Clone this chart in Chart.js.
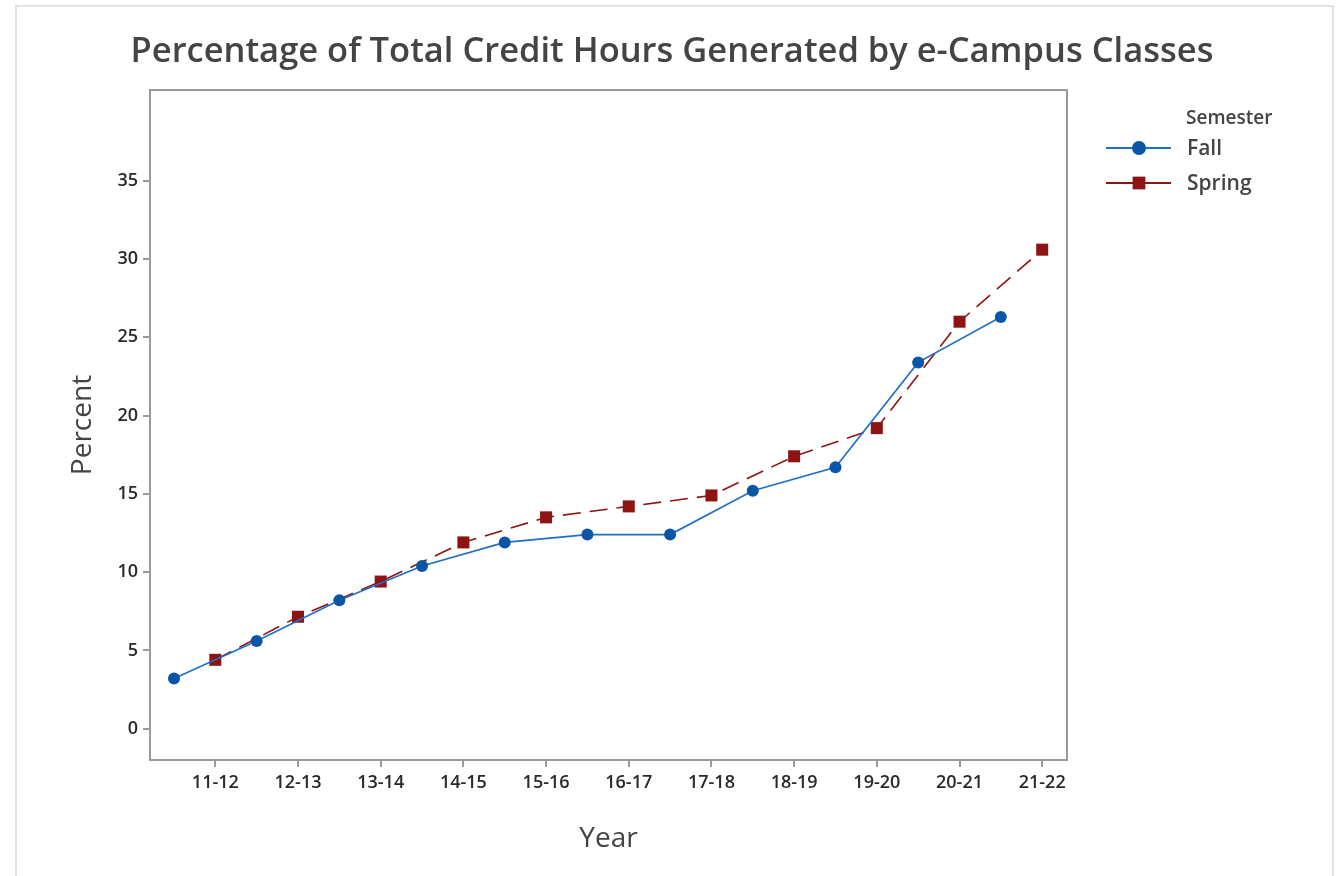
<!DOCTYPE html>
<html>
<head>
<meta charset="utf-8">
<script src="https://cdn.jsdelivr.net/npm/chart.js@4.4.1/dist/chart.umd.min.js"></script>
<style>
  html, body { margin: 0; padding: 0; background: #fff; }
  #frame { position: absolute; left: 15px; top: 5px; width: 1315px; height: 900px; border: 2px solid #e2e2e2; border-bottom: none; }
  #wrap { position: absolute; left: 0; top: 0; width: 1340px; height: 876px; }
</style>
</head>
<body>
<div id="frame"></div>
<div id="wrap"><canvas id="grafico" width="1340" height="876"></canvas></div>
<script>
// Datos
const years = ['11-12', '12-13', '13-14', '14-15', '15-16', '16-17', '17-18', '18-19', '19-20', '20-21', '21-22'];
const fallValues = [3.2, 5.6, 8.2, 10.4, 11.9, 12.4, 12.4, 15.2, 16.7, 23.4, 26.3];
const springValues = [4.4, 7.15, 9.4, 11.9, 13.5, 14.2, 14.9, 17.4, 19.2, 26.0, 30.6];
const yTicks = [0, 5, 10, 15, 20, 25, 30, 35];

const FONT = "'Open Sans', 'Noto Sans', sans-serif";
const blue = '#1f6fc4';
const blueDot = '#0a55a5';
const red = '#8e1414';

// Fall va a mitad de camino antes de cada año, Spring sobre la marca
const fallPoints = fallValues.map((v, i) => ({ x: i + 0.5, y: v }));
const springPoints = springValues.map((v, i) => ({ x: i + 1, y: v }));

const extras = {
    id: 'extras',
    afterDraw(chart) {
        const ctx = chart.ctx;
        const a = chart.chartArea;
        ctx.save();
        // caja del area de trazado
        ctx.strokeStyle = '#9a9a9a';
        ctx.lineWidth = 2;
        ctx.strokeRect(a.left, a.top, a.right - a.left, a.bottom - a.top);

        // titulo
        ctx.fillStyle = '#444';
        ctx.font = '600 34.5px ' + FONT;
        ctx.textAlign = 'center';
        ctx.textBaseline = 'middle';
        ctx.fillText('Percentage of Total Credit Hours Generated by e-Campus Classes', 672, 52);

        // leyenda
        ctx.textAlign = 'left';
        ctx.font = '600 19px ' + FONT;
        ctx.fillText('Semester', 1186, 119);
        const items = [
            { label: 'Fall', color: blue, dot: blueDot, style: 'circle', r: 7, y: 148 },
            { label: 'Spring', color: red, dot: red, style: 'rect', r: 9, y: 183 }
        ];
        items.forEach(it => {
            ctx.strokeStyle = it.color;
            ctx.lineWidth = 2;
            ctx.beginPath();
            ctx.moveTo(1106, it.y);
            ctx.lineTo(1171, it.y);
            ctx.stroke();
            ctx.fillStyle = it.dot;
            Chart.helpers.drawPoint(ctx, { pointStyle: it.style, radius: it.r, borderWidth: 0 }, 1139, it.y);
            ctx.fillStyle = '#444';
            ctx.font = '600 21px ' + FONT;
            ctx.fillText(it.label, 1187, it.y + 1);
        });
        ctx.restore();
    }
};

const ctx = document.getElementById('grafico').getContext('2d');
new Chart(ctx, {
    type: 'line',
    data: {
        datasets: [
            {
                label: 'Fall',
                data: fallPoints,
                borderColor: blue,
                borderWidth: 1.6,
                pointStyle: 'circle',
                pointRadius: 6,
                pointBackgroundColor: blueDot,
                pointBorderColor: blueDot,
                pointBorderWidth: 0,
                tension: 0
            },
            {
                label: 'Spring',
                data: springPoints,
                borderColor: red,
                borderWidth: 1.6,
                borderDash: [18, 9],
                pointStyle: 'rect',
                pointRadius: 8.5,
                pointBackgroundColor: red,
                pointBorderColor: red,
                pointBorderWidth: 0,
                tension: 0
            }
        ]
    },
    options: {
        responsive: false,
        animation: false,
        layout: { padding: { left: 62, top: 90, right: 273, bottom: 16 } },
        plugins: {
            legend: { display: false },
            title: { display: false },
            tooltip: { enabled: false }
        },
        scales: {
            x: {
                type: 'linear',
                min: 0.21,
                max: 11.3,
                afterBuildTicks: scale => { scale.ticks = years.map((y, i) => ({ value: i + 1 })); },
                afterFit: scale => { scale.height = 100; },
                grid: { drawOnChartArea: false, drawTicks: true, tickLength: 7, color: '#9a9a9a', lineWidth: 2 },
                border: { display: true, color: '#9a9a9a', width: 2 },
                ticks: {
                    color: '#2a2a2a',
                    font: { family: FONT, size: 18, weight: '600' },
                    padding: 5,
                    maxRotation: 0,
                    autoSkip: false,
                    callback: v => years[Math.round(v) - 1]
                },
                title: {
                    display: true,
                    text: 'Year',
                    color: '#444',
                    font: { family: FONT, size: 28 },
                    padding: { top: 6 }
                }
            },
            y: {
                min: -2,
                max: 40.8,
                afterBuildTicks: scale => { scale.ticks = yTicks.map(v => ({ value: v })); },
                afterFit: scale => { scale.width = 88; },
                grid: { drawOnChartArea: false, drawTicks: true, tickLength: 7, color: '#9a9a9a', lineWidth: 2 },
                border: { display: true, color: '#9a9a9a', width: 2 },
                ticks: {
                    color: '#2a2a2a',
                    font: { family: FONT, size: 18, weight: '600' },
                    padding: 5
                },
                title: {
                    display: true,
                    text: 'Percent',
                    color: '#444',
                    font: { family: FONT, size: 28 },
                    padding: { bottom: 12 }
                }
            }
        }
    },
    plugins: [extras]
});
</script>
</body>
</html>
